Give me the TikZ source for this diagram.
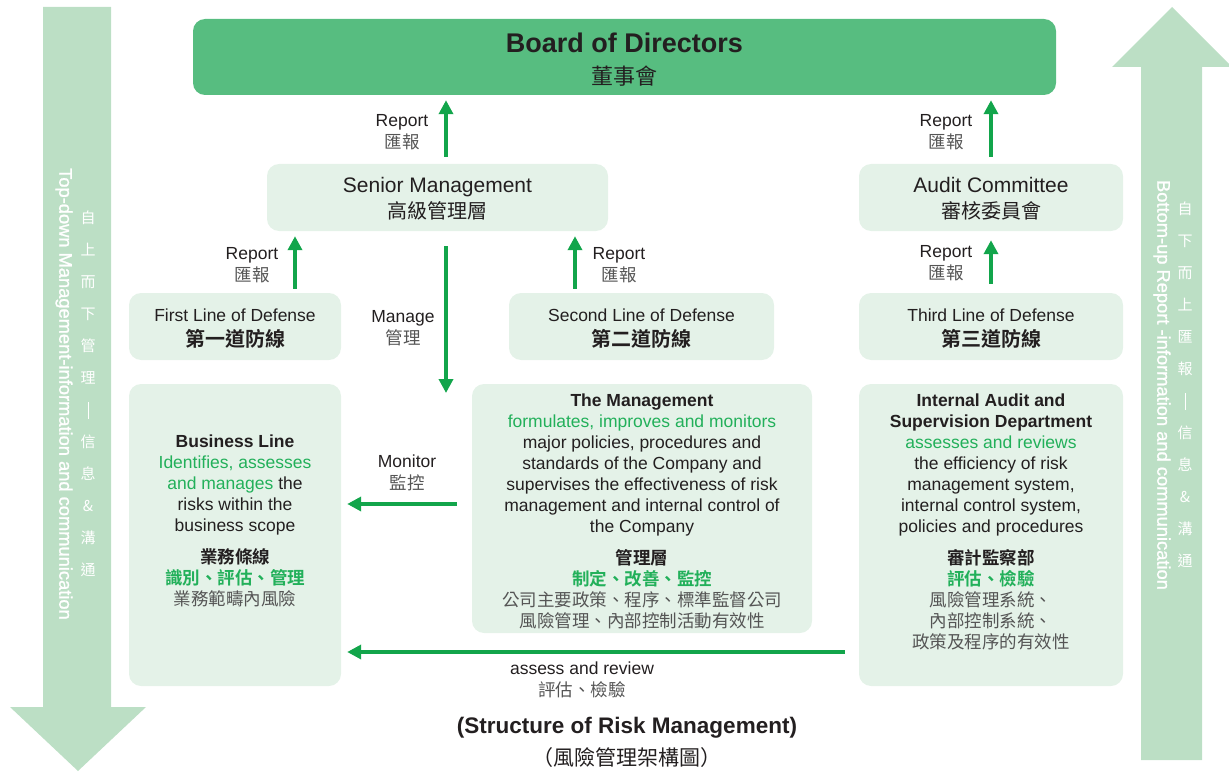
\documentclass[tikz,border=0pt]{standalone}
\usepackage{fontspec}
\setmainfont{Liberation Sans}
\newfontfamily\cjk{Noto Sans CJK TC}[BoldFont={Noto Sans CJK TC Bold}]
\newfontfamily\medsans{Liberation Sans}[FakeBold=1.2]
\usetikzlibrary{arrows.meta}
\definecolor{boardfill}{HTML}{57BD80}
\definecolor{boxbg}{HTML}{E4F2E8}
\definecolor{bigarrow}{HTML}{BCDFC5}
\definecolor{arrgreen}{HTML}{12A54B}
\definecolor{tgreen}{HTML}{22B05A}
\definecolor{tdark}{HTML}{231F20}
\definecolor{tgray}{HTML}{555555}
\newcommand\myen{\fontsize{17.5}{21}\selectfont}
\newcommand\vdashbar{\rule[-3pt]{0.8pt}{17pt}}
\tikzset{
  box/.style={fill=boxbg, rounded corners=12pt, inner sep=0pt},
  arr/.style={draw=arrgreen, line width=4pt, -{Triangle[width=14pt,length=14pt]}},
  blk/.style={align=center, inner sep=0pt, anchor=north, text=tdark, font=\myen},
  lbl/.style={align=center, inner sep=0pt, anchor=north, text=tdark, font=\fontsize{17.5}{22}\selectfont},
  one/.style={inner sep=0pt, anchor=base, text=tdark},
  vert/.style={align=center, inner sep=0pt, text=white}
}
\begin{document}
\begin{tikzpicture}[x=1pt,y=-1pt]
\clip (0,0) rectangle (1229,773);
% big side arrows
\fill[bigarrow] (43,7) -- (111,7) -- (111,707) -- (146,707) -- (78,771) -- (10,707) -- (43,707) -- cycle;
\fill[bigarrow] (1141,760) -- (1141,67) -- (1112,67) -- (1172,7) -- (1232,67) -- (1202,67) -- (1202,760) -- cycle;
\node[rotate=-90, inner sep=0pt, text=white, font=\medsans\fontsize{18.3}{22}\selectfont] (ltxt) at (64,394) {Top-down Management-information and communication};
\node[vert, font=\cjk\fontsize{15}{32}\selectfont] (lzh) at (88,394) {自\\上\\而\\下\\管\\理\\\vdashbar\\信\\息\\\&\\溝\\通};
\node[rotate=-90, inner sep=0pt, text=white, font=\medsans\fontsize{18.3}{22}\selectfont] (rtxt) at (1162,385) {Bottom-up Report -information and communication};
\node[vert, font=\cjk\fontsize{15}{32}\selectfont] (rzh) at (1185,385) {自\\下\\而\\上\\匯\\報\\\vdashbar\\信\\息\\\&\\溝\\通};

% boxes
\node[box, fill=boardfill, minimum width=863pt, minimum height=76pt] (bod) at (624.5,57) {};
\node[box, minimum width=341pt, minimum height=67pt] (sm) at (437.5,197.5) {};
\node[box, minimum width=264pt, minimum height=67pt] (ac) at (991,197.5) {};
\node[box, minimum width=212pt, minimum height=67pt] (fl) at (235,326.5) {};
\node[box, minimum width=265pt, minimum height=67pt] (sl) at (641.5,326.5) {};
\node[box, minimum width=264pt, minimum height=67pt] (tl) at (991,326.5) {};
\node[box, minimum width=212pt, minimum height=302pt] (bl) at (235,535) {};
\node[box, minimum width=340pt, minimum height=249pt] (mg) at (642,508.5) {};
\node[box, minimum width=264pt, minimum height=302pt] (ia) at (991,535) {};

% box titles
\node[one, font=\bfseries\fontsize{27}{30}\selectfont] (bodEn) at (624.5,53) {Board of Directors};
\node[one, font=\cjk\fontsize{22}{26}\selectfont] (bodZh) at (624.5,85) {董事會};
\node[one, font=\fontsize{21}{24}\selectfont] (smEn) at (437.5,192.5) {Senior Management};
\node[one, font=\cjk\fontsize{20}{24}\selectfont] (smZh) at (437.5,218.5) {高級管理層};
\node[one, font=\fontsize{21}{24}\selectfont] (acEn) at (991,192.5) {Audit Committee};
\node[one, font=\cjk\fontsize{20}{24}\selectfont] (acZh) at (991,218.5) {審核委員會};
\node[one, font=\fontsize{17.5}{21}\selectfont] (flEn) at (235,321) {First Line of Defense};
\node[one, font=\cjk\bfseries\fontsize{20}{24}\selectfont] (flZh) at (235,346) {第一道防線};
\node[one, font=\fontsize{17.5}{21}\selectfont] (slEn) at (641.5,321) {Second Line of Defense};
\node[one, font=\cjk\bfseries\fontsize{20}{24}\selectfont] (slZh) at (641.5,346) {第二道防線};
\node[one, font=\fontsize{17.5}{21}\selectfont] (tlEn) at (991,321) {Third Line of Defense};
\node[one, font=\cjk\bfseries\fontsize{20}{24}\selectfont] (tlZh) at (991,346) {第三道防線};

% box contents
\node[blk] (blT) at (235,432.5) {\strut\textbf{Business Line}\\
\textcolor{tgreen}{Identifies, assesses}\\
\textcolor{tgreen}{and manages} the\\
risks within the\\
business scope\\[11pt]
{\cjk\bfseries\fontsize{17.5}{21}\selectfont 業務條線}\\
{\cjk\bfseries\fontsize{17.5}{21}\selectfont\color{tgreen}識別、評估、管理}\\
{\cjk\fontsize{17.5}{21}\selectfont\color{tgray}業務範疇內風險}};
\node[blk] (mgT) at (642,391.5) {\strut\textbf{The Management}\\
\textcolor{tgreen}{formulates, improves and monitors}\\
major policies, procedures and\\
standards of the Company and\\
supervises the effectiveness of risk\\
management and internal control of\\
the Company\\[11pt]
{\cjk\bfseries\fontsize{17.5}{21}\selectfont 管理層}\\
{\cjk\bfseries\fontsize{17.5}{21}\selectfont\color{tgreen}制定、改善、監控}\\
{\cjk\fontsize{17.5}{21}\selectfont\color{tgray}公司主要政策、程序、標準監督公司}\\
{\cjk\fontsize{17.5}{21}\selectfont\color{tgray}風險管理、內部控制活動有效性}};
\node[blk] (iaT) at (991,391.5) {\strut\textbf{Internal Audit and}\\
\textbf{Supervision Department}\\
\textcolor{tgreen}{assesses and reviews}\\
the efficiency of risk\\
management system,\\
internal control system,\\
policies and procedures\\[11pt]
{\cjk\bfseries\fontsize{17.5}{21}\selectfont 審計監察部}\\
{\cjk\bfseries\fontsize{17.5}{21}\selectfont\color{tgreen}評估、檢驗}\\
{\cjk\fontsize{17.5}{21}\selectfont\color{tgray}風險管理系統、}\\
{\cjk\fontsize{17.5}{21}\selectfont\color{tgray}內部控制系統、}\\
{\cjk\fontsize{17.5}{21}\selectfont\color{tgray}政策及程序的有效性}};

% connectors
\coordinate (xA) at (446,0);
\coordinate (xB) at (991,0);
\coordinate (xC) at (295,0);
\coordinate (xD) at (575,0);
\coordinate (yM) at (0,504);
\coordinate (yR) at (0,652);
\coordinate (mtip) at (446,393);
\draw[arr, shorten <=7pt, shorten >=5pt] (sm.north -| xA) -- (bod.south -| xA);
\draw[arr, shorten <=7pt, shorten >=5pt] (ac.north -| xB) -- (bod.south -| xB);
\draw[arr, shorten <=4pt, shorten >=5pt] (fl.north -| xC) -- (sm.south -| xC);
\draw[arr, shorten <=4pt, shorten >=5pt] (sl.north -| xD) -- (sm.south -| xD);
\draw[arr, shorten <=9pt, shorten >=9pt] (tl.north -| xB) -- (ac.south -| xB);
\draw[arr, shorten <=15pt] (sm.south -| xA) -- (mtip);
\draw[arr, shorten <=15pt, shorten >=6pt] (mg.west |- yM) -- (bl.east |- yM);
\draw[arr, shorten <=14pt, shorten >=6pt] (ia.west |- yR) -- (bl.east |- yR);

% connector labels
\node[lbl] (l1) at (402,110.5) {\strut Report\\{\cjk\color{tgray}匯報}};
\node[lbl] (l2) at (946,110.5) {\strut Report\\{\cjk\color{tgray}匯報}};
\node[lbl] (l3) at (252,243.5) {\strut Report\\{\cjk\color{tgray}匯報}};
\node[lbl] (l4) at (619,243.5) {\strut Report\\{\cjk\color{tgray}匯報}};
\node[lbl] (l5) at (946,241.5) {\strut Report\\{\cjk\color{tgray}匯報}};
\node[lbl] (l6) at (403,306.5) {\strut Manage\\{\cjk\color{tgray}管理}};
\node[lbl] (l7) at (407,451.5) {\strut Monitor\\{\cjk\color{tgray}監控}};
\node[lbl] (l8) at (582,658.5) {\strut assess and review\\{\cjk\color{tgray}評估、檢驗}};

% title
\node[one, font=\bfseries\fontsize{22.5}{26}\selectfont] (tEn) at (627,733) {(Structure of Risk Management)};
\node[one, font=\cjk\fontsize{21}{26}\selectfont] (tZh) at (627,765) {（風險管理架構圖）};
\end{tikzpicture}
\end{document}
